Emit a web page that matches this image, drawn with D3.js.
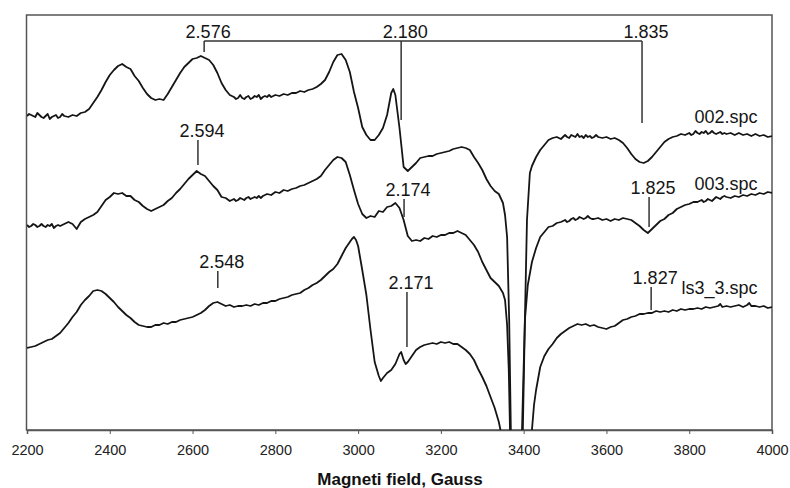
<!DOCTYPE html>
<html><head><meta charset="utf-8">
<script src="https://cdn.jsdelivr.net/npm/d3@7"></script>
<style>body{margin:0;background:#fff} svg{display:block}</style>
</head><body>
<svg id="chart" width="790" height="488"></svg>
<script>
// ---- data (field in Gauss, intensity in arbitrary units) ----
const fieldTicks = [2200,2400,2600,2800,3000,3200,3400,3600,3800,4000];
const axisTitle = "Magneti field, Gauss";
const seriesNames = ["002.spc","003.spc","ls3_3.spc"];
const seriesLabelLevel = [307,240,136];

const spec002 = [[2200,314],[2205,316],[2210,315],[2215,314],[2220,313],[2225,317],[2230,315],[2235,313],[2240,312],[2245,314],[2250,316],[2255,311],[2260,313],[2265,314],[2270,315],[2275,312],[2280,313],[2285,316],[2290,314],[2300,313],[2310,315],[2320,314],[2330,317],[2340,318],[2350,321],[2360,327],[2370,333],[2380,340],[2390,348],[2400,355],[2410,360],[2420,364],[2430,366],[2440,363],[2450,361],[2460,354],[2470,349],[2480,342],[2490,336],[2500,332],[2510,330],[2520,331],[2530,330],[2540,336],[2550,343],[2560,350],[2570,357],[2580,363],[2590,367],[2600,371],[2610,372],[2620,374],[2630,372],[2640,370],[2650,365],[2660,357],[2670,347],[2680,340],[2690,335],[2700,333],[2705,331],[2710,332],[2715,335],[2720,332],[2725,331],[2730,333],[2735,334],[2740,331],[2745,332],[2750,334],[2755,333],[2760,335],[2765,331],[2770,333],[2775,334],[2780,333],[2785,335],[2790,333],[2800,335],[2810,334],[2820,336],[2830,335],[2840,337],[2850,337],[2860,339],[2870,338],[2880,340],[2890,341],[2900,343],[2910,346],[2920,350],[2930,358],[2940,368],[2950,375],[2960,376],[2970,370],[2980,358],[2990,338],[3000,322],[3010,303],[3020,295],[3030,290],[3040,290],[3050,295],[3060,302],[3070,315],[3080,337],[3085,341],[3090,335],[3100,302],[3110,263],[3120,259],[3130,263],[3140,267],[3150,272],[3160,273],[3170,274],[3180,274],[3190,276],[3200,277],[3210,278],[3220,279],[3230,281],[3240,282],[3250,283],[3260,282],[3270,280],[3280,273],[3290,267],[3300,260],[3310,251],[3320,244],[3330,239],[3340,236],[3350,227],[3355,215],[3360,193],[3365,110],[3369,0],[3384,-370],[3398,0],[3403,110],[3408,210],[3415,257],[3420,264],[3430,273],[3440,280],[3450,285],[3460,290],[3470,292],[3480,293],[3490,291],[3500,295],[3505,293],[3510,292],[3515,295],[3520,294],[3525,293],[3530,296],[3535,293],[3540,294],[3545,292],[3550,295],[3555,293],[3560,294],[3565,292],[3570,293],[3575,295],[3580,293],[3590,292],[3600,293],[3610,291],[3620,292],[3630,290],[3640,287],[3650,282],[3660,276],[3670,271],[3680,268],[3690,267],[3700,269],[3710,273],[3720,278],[3730,283],[3740,288],[3750,291],[3760,293],[3770,294],[3780,296],[3790,295],[3800,297],[3805,295],[3810,296],[3815,299],[3820,297],[3825,296],[3830,298],[3835,297],[3840,299],[3845,296],[3850,297],[3855,299],[3860,297],[3865,296],[3870,297],[3875,298],[3880,296],[3885,297],[3890,296],[3900,297],[3910,295],[3920,297],[3930,295],[3940,296],[3950,294],[3960,296],[3970,294],[3980,295],[3990,293],[4000,294]];

const spec003 = [[2200,205],[2205,203],[2210,204],[2215,206],[2220,205],[2225,203],[2230,204],[2235,206],[2240,204],[2245,203],[2250,205],[2255,204],[2260,206],[2265,202],[2270,204],[2275,205],[2280,204],[2290,206],[2300,208],[2310,206],[2320,201],[2330,208],[2340,211],[2350,213],[2360,215],[2370,218],[2380,224],[2390,230],[2400,233],[2410,237],[2420,236],[2430,237],[2440,234],[2450,234],[2460,230],[2470,228],[2480,224],[2490,221],[2500,219],[2510,221],[2520,223],[2530,225],[2540,229],[2550,232],[2560,237],[2570,241],[2580,246],[2590,251],[2600,255],[2610,259],[2620,256],[2630,254],[2640,249],[2650,244],[2660,240],[2670,233],[2680,232],[2690,229],[2700,231],[2705,229],[2710,230],[2715,232],[2720,231],[2725,230],[2730,232],[2735,233],[2740,231],[2745,232],[2750,233],[2755,232],[2760,234],[2765,232],[2770,234],[2780,236],[2790,235],[2800,238],[2810,237],[2820,240],[2830,239],[2840,241],[2850,242],[2860,244],[2870,245],[2880,247],[2890,249],[2900,251],[2910,254],[2920,260],[2930,265],[2940,270],[2950,273],[2960,272],[2970,268],[2980,255],[2990,240],[3000,226],[3010,216],[3020,212],[3030,214],[3040,213],[3050,219],[3060,218],[3070,223],[3080,224],[3090,227],[3100,222],[3110,210],[3120,194],[3130,189],[3140,190],[3150,189],[3160,192],[3170,191],[3180,194],[3190,193],[3200,195],[3210,195],[3220,197],[3230,197],[3240,199],[3250,197],[3260,195],[3270,190],[3280,185],[3290,178],[3300,168],[3310,160],[3320,152],[3330,148],[3340,144],[3350,137],[3355,130],[3360,105],[3364,60],[3367,0],[3384,-370],[3396,0],[3403,110],[3410,145],[3420,168],[3430,182],[3440,193],[3450,198],[3460,203],[3470,204],[3480,207],[3490,208],[3500,210],[3505,208],[3510,209],[3515,211],[3520,212],[3525,210],[3530,211],[3535,213],[3540,212],[3545,211],[3550,212],[3555,214],[3560,212],[3565,211],[3570,211],[3580,212],[3590,210],[3600,211],[3610,209],[3620,211],[3630,210],[3640,212],[3650,211],[3660,210],[3670,207],[3680,204],[3690,200],[3700,197],[3710,201],[3720,205],[3730,209],[3740,211],[3750,215],[3760,217],[3770,221],[3780,223],[3790,225],[3800,226],[3810,228],[3820,228],[3830,230],[3835,228],[3840,229],[3845,231],[3850,230],[3855,229],[3860,231],[3865,233],[3870,232],[3875,231],[3880,233],[3885,234],[3890,233],[3900,232],[3910,234],[3920,233],[3930,235],[3940,234],[3950,236],[3960,235],[3970,237],[3980,236],[3990,238],[4000,237]];

const specLs3 = [[2200,82],[2210,83],[2220,84],[2230,86],[2240,88],[2250,90],[2260,91],[2270,94],[2280,97],[2290,102],[2300,107],[2310,113],[2320,118],[2330,125],[2340,130],[2350,134],[2360,139],[2370,140],[2380,139],[2390,136],[2400,132],[2410,128],[2420,123],[2430,119],[2440,115],[2450,112],[2460,108],[2470,105],[2480,104],[2490,103],[2500,103],[2510,105],[2520,105],[2530,107],[2540,106],[2550,108],[2560,108],[2570,110],[2580,111],[2590,112],[2600,113],[2610,115],[2620,117],[2630,120],[2640,124],[2650,127],[2660,128],[2670,126],[2680,124],[2690,125],[2700,123],[2710,124],[2720,124],[2730,125],[2740,124],[2750,126],[2760,125],[2770,127],[2780,127],[2790,129],[2800,129],[2810,131],[2820,132],[2830,133],[2840,135],[2850,136],[2860,137],[2870,140],[2880,142],[2890,145],[2900,147],[2910,150],[2920,154],[2930,158],[2940,161],[2950,166],[2960,174],[2970,182],[2980,188],[2985,191],[2990,193],[2995,190],[3000,184],[3010,160],[3020,135],[3030,100],[3040,68],[3050,54],[3055,49],[3060,52],[3070,57],[3080,60],[3090,66],[3100,76],[3104,78],[3110,70],[3115,66],[3120,68],[3130,74],[3140,80],[3150,83],[3160,85],[3170,86],[3180,87],[3190,86],[3200,88],[3210,87],[3220,88],[3230,86],[3240,86],[3250,83],[3260,80],[3270,76],[3280,70],[3290,61],[3300,53],[3310,44],[3320,33],[3330,22],[3340,8],[3345,-2],[3360,-130],[3384,-270],[3410,-130],[3420,0],[3425,25],[3430,40],[3440,63],[3450,74],[3460,81],[3470,86],[3480,92],[3490,96],[3500,99],[3510,102],[3520,104],[3530,106],[3540,105],[3550,106],[3560,104],[3570,105],[3580,103],[3590,102],[3600,101],[3610,103],[3620,104],[3630,107],[3640,110],[3650,111],[3660,113],[3670,114],[3680,116],[3690,116],[3700,117],[3710,117],[3720,119],[3730,118],[3740,119],[3750,118],[3760,120],[3770,119],[3780,121],[3790,120],[3800,121],[3810,121],[3820,122],[3830,121],[3840,123],[3850,122],[3860,123],[3870,124],[3875,126],[3880,123],[3890,124],[3900,123],[3910,124],[3920,125],[3930,123],[3940,125],[3945,127],[3950,124],[3960,124],[3970,123],[3980,124],[3990,122],[4000,123]];

// g-value annotations
const bracketG = ["2.576","2.180","1.835"];
const bracketField = [2628,3104,3686];
const bracketEnd = [378,310,307];
const bracketLevel = 389;
const markG = ["2.594","2.174","1.825","2.548","2.171","1.827"];
const markField = [2613,3111,3703,2661,3118,3708];
const markTop = [290,231,233,159,138,143];
const markBottom = [265,213,203,142,83,120];

// ---- drawing ----
const svg = d3.select("#chart");
const x = d3.scaleLinear().domain([2200,4000]).range([27,772]);
const y = d3.scaleLinear().domain([0,415]).range([430,15]);
const ink = "#151515";
const font = "'Liberation Sans', Arial, sans-serif";

svg.append("defs").append("clipPath").attr("id","plot")
  .append("rect").attr("x",27).attr("y",15).attr("width",745).attr("height",415);

// frame
svg.append("rect").attr("x",26.5).attr("y",15).attr("width",745.5).attr("height",415)
  .attr("fill","none").attr("stroke","#555").attr("stroke-width",1.5);

// axis
const axis = d3.axisBottom(x).tickValues(fieldTicks).tickSize(4).tickPadding(11).tickFormat(d3.format("d"));
const gAxis = svg.append("g").attr("transform","translate(0,430)").call(axis);
gAxis.select(".domain").attr("stroke","#555").attr("stroke-width",1.5);
gAxis.selectAll(".tick line").attr("stroke","#555");
gAxis.selectAll(".tick text").attr("font-family",font).attr("font-size",14.5).attr("fill","#222");

svg.append("text").attr("x",400).attr("y",485).attr("text-anchor","middle")
  .attr("font-family",font).attr("font-weight","bold").attr("font-size",17).attr("fill","#111")
  .text(axisTitle);

// spectra
const line = d3.line().x(d=>x(d[0])).y(d=>y(d[1]));
const plot = svg.append("g").attr("clip-path","url(#plot)");
[spec002, spec003, specLs3].forEach(s=>{
  plot.append("path").attr("d",line(s)).attr("fill","none")
    .attr("stroke",ink).attr("stroke-width",1.8).attr("stroke-linejoin","round");
});

// series labels
seriesNames.forEach((n,i)=>{
  svg.append("text").attr("x",x(3965)).attr("y",y(seriesLabelLevel[i])).attr("text-anchor","end")
    .attr("font-family",font).attr("font-size",18).attr("fill",ink).text(n);
});

// bracket for 002.spc
const ann = svg.append("g").attr("stroke","#333").attr("stroke-width",1.5).attr("fill","none");
ann.append("line").attr("x1",x(bracketField[0])).attr("x2",x(bracketField[2]))
  .attr("y1",y(bracketLevel)).attr("y2",y(bracketLevel));
bracketField.forEach((f,i)=>{
  ann.append("line").attr("x1",x(f)).attr("x2",x(f)).attr("y1",y(bracketLevel)).attr("y2",y(bracketEnd[i]));
  svg.append("text").attr("x",x(f)+4).attr("y",y(bracketLevel)-3).attr("text-anchor","middle")
    .attr("font-family",font).attr("font-size",18).attr("fill",ink).text(bracketG[i]);
});
markField.forEach((f,i)=>{
  ann.append("line").attr("x1",x(f)).attr("x2",x(f)).attr("y1",y(markTop[i])).attr("y2",y(markBottom[i]));
  svg.append("text").attr("x",x(f)+4).attr("y",y(markTop[i])-3).attr("text-anchor","middle")
    .attr("font-family",font).attr("font-size",18).attr("fill",ink).text(markG[i]);
});
</script>
</body></html>
